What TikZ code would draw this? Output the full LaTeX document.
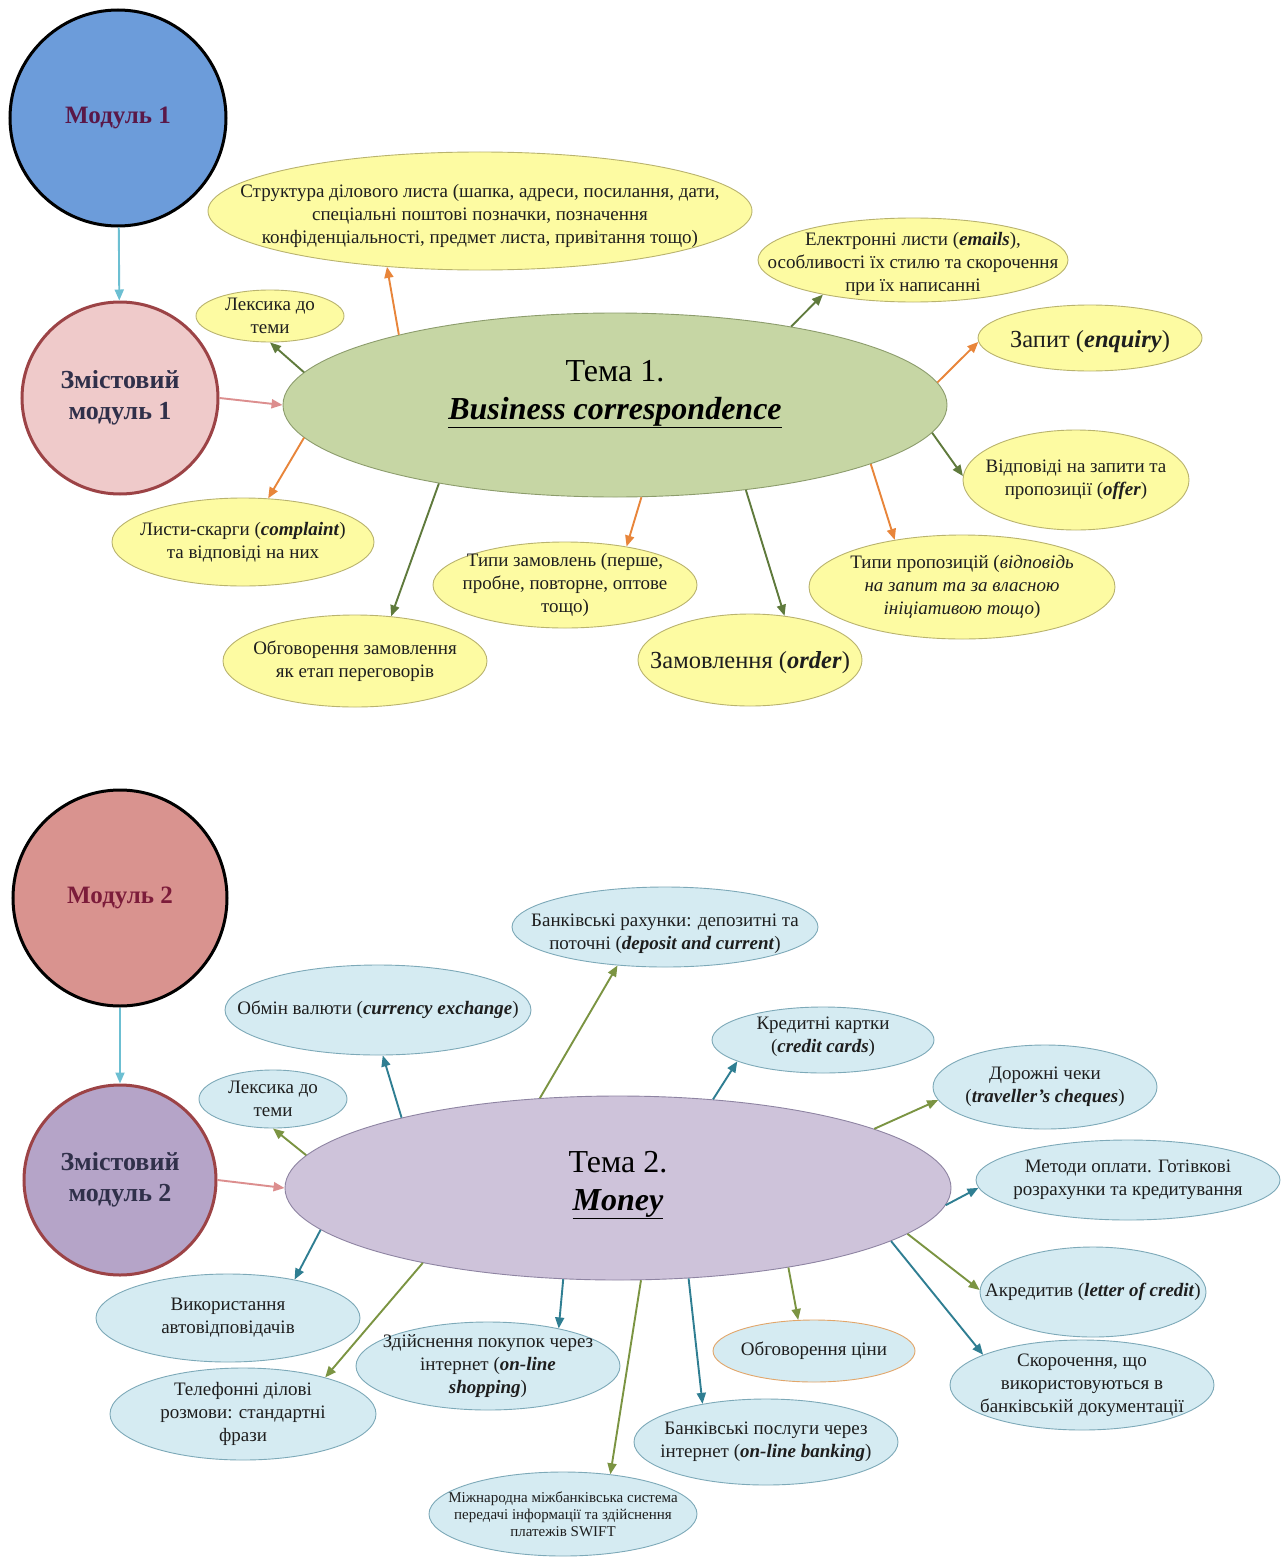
\documentclass[tikz,border=0pt]{standalone}
\usepackage{fontspec}
\setmainfont{Liberation Serif}
\usetikzlibrary{shapes.geometric,arrows.meta}
\definecolor{yelF}{HTML}{FDFBA2}
\definecolor{yelD}{HTML}{B9B36E}
\definecolor{bluF}{HTML}{D5EBF2}
\definecolor{bluD}{HTML}{7DA9B8}
\definecolor{txtC}{HTML}{1E1E1E}
\definecolor{mOneF}{HTML}{6C9CDA}
\definecolor{mTwoF}{HTML}{D9938F}
\definecolor{mOneT}{HTML}{5A1848}
\definecolor{mTwoT}{HTML}{7C1C3A}
\definecolor{zOneF}{HTML}{EFCACA}
\definecolor{zTwoF}{HTML}{B5A4C8}
\definecolor{zBord}{HTML}{9C4346}
\definecolor{zTxt}{HTML}{30304A}
\definecolor{tOneF}{HTML}{C6D6A4}
\definecolor{tOneD}{HTML}{8C9C6C}
\definecolor{tTwoF}{HTML}{CEC3DA}
\definecolor{tTwoD}{HTML}{8E84A2}
\definecolor{arOr}{HTML}{E8853A}
\definecolor{arGrT}{HTML}{5F7A3C}
\definecolor{arGrB}{HTML}{7B9442}
\definecolor{arTeal}{HTML}{2F7E92}
\definecolor{arLB}{HTML}{6CBFD2}
\definecolor{arPk}{HTML}{DC8E8E}
\definecolor{obcD}{HTML}{E2A66A}
\tikzset{
  base/.style={ellipse, inner sep=0pt},
  yel/.style={base, fill=yelF, draw=yelD, line width=0.9pt},
  blu/.style={base, fill=bluF, draw=bluD, line width=0.9pt},
  lbl/.style={align=center, text=txtC, font=\fontsize{19}{23}\selectfont},
  big/.style={align=center, text=txtC, font=\fontsize{24.5}{29}\selectfont},
  small/.style={align=center, text=txtC, font=\fontsize{15}{17}\selectfont},
  modc/.style={base, draw=black, line width=3pt},
  zmc/.style={base, draw=zBord, line width=3pt},
  zlbl/.style={align=center, text=zTxt, font=\fontsize{26}{31}\selectfont\bfseries},
  tema/.style={align=center, text=black, font=\fontsize{32}{38}\selectfont},
  arr/.style={line width=1.9pt, -{Triangle[length=11pt,width=9pt]}},
}
\newcommand\bi[1]{\textbf{\textit{#1}}}
\begin{document}
\begin{tikzpicture}[x=1pt,y=-1pt]
\useasboundingbox (0,0) rectangle (1280,1557);
\fill[white] (0,0) rectangle (1280,1557);

% ---------------- Module 1 ----------------
\node[modc, fill=mOneF, minimum width=216, minimum height=216,
  label={[align=center, text=mOneT, font=\fontsize{25}{30}\selectfont\bfseries]center:{Модуль 1}}] (m1) at (118,118) {};
\node[zmc, fill=zOneF, minimum width=196, minimum height=192,
  label={[zlbl]center:{Змістовий\\модуль 1}}] (z1) at (120,398) {};
\node[base, fill=tOneF, draw=tOneD, line width=0.9pt, minimum width=664, minimum height=184,
  label={[tema, yshift=11pt]center:{Тема 1.\\\underline{\bi{Business correspondence}}}}] (t1) at (615,405) {};

\node[yel, minimum width=544, minimum height=118,
  label={[lbl, yshift=-5pt]center:{Структура ділового листа (шапка, адреси, посилання, дати,\\спеціальні поштові позначки, позначення\\конфіденціальності, предмет листа, привітання тощо)}}] (s1) at (480,211) {};
\node[yel, minimum width=148, minimum height=52,
  label={[lbl]center:{Лексика до\\теми}}] (lx1) at (270,316) {};
\node[yel, minimum width=310, minimum height=84,
  label={[lbl, yshift=-4pt]center:{Електронні листи (\bi{emails}),\\особливості їх стилю та скорочення\\при їх написанні}}] (em) at (913,260) {};
\node[yel, minimum width=224, minimum height=66,
  label={[big, yshift=-4pt]center:{Запит (\bi{enquiry})}}] (zap) at (1090,338) {};
\node[yel, minimum width=226, minimum height=100,
  label={[lbl]center:{Відповіді на запити та\\пропозиції (\bi{offer})}}] (vid) at (1076,480) {};
\node[yel, minimum width=306, minimum height=104,
  label={[lbl]center:{Типи пропозицій (\textit{відповідь}\\\textit{на запит та за власною}\\\textit{ініціативою тощо})}}] (tp) at (962,587) {};
\node[yel, minimum width=224, minimum height=92,
  label={[big, yshift=-3pt]center:{Замовлення (\bi{order})}}] (zam) at (750,660) {};
\node[yel, minimum width=264, minimum height=86,
  label={[lbl]center:{Типи замовлень (перше,\\пробне, повторне, оптове\\тощо)}}] (tz) at (565,585) {};
\node[yel, minimum width=262, minimum height=88,
  label={[lbl]center:{Листи-скарги (\bi{complaint})\\та відповіді на них}}] (lsk) at (243,542) {};
\node[yel, minimum width=264, minimum height=92,
  label={[lbl]center:{Обговорення замовлення\\як етап переговорів}}] (obz) at (355,661) {};

\draw[arr, arLB] (m1) -- (z1);
\draw[arr, arPk] (z1.east) -- (t1.west);
\draw[arr, arOr] (t1.162) -- (s1.-149);
\draw[arr, arGrT] (t1.174.6) -- (lx1.-90);
\draw[arr, arGrT] (t1.24.6) -- (em.-159);
\draw[arr, arOr] (t1.4.4) -- (zap.182);
\draw[arr, arGrT] (t1.-5.6) -- (vid.178);
\draw[arr, arOr] (t1.-13.8) -- (tp.145);
\draw[arr, arGrT] (t1.-33) -- (zam.52);
\draw[arr, arOr] (t1.-74.8) -- (tz.32);
\draw[arr, arOr] (t1.186.4) -- (lsk.60);
\draw[arr, arGrT] (t1.204) -- (obz.51);

% ---------------- Module 2 ----------------
\node[modc, fill=mTwoF, minimum width=214, minimum height=216,
  label={[align=center, text=mTwoT, font=\fontsize{25}{30}\selectfont\bfseries]center:{Модуль 2}}] (m2) at (120,898) {};
\node[zmc, fill=zTwoF, minimum width=192, minimum height=190,
  label={[zlbl]center:{Змістовий\\модуль 2}}] (z2) at (120,1180) {};
\node[base, fill=tTwoF, draw=tTwoD, line width=0.9pt, minimum width=666, minimum height=184,
  label={[tema, yshift=3pt]center:{Тема 2.\\\underline{\bi{Money}}}}] (t2) at (618,1188) {};

\node[blu, minimum width=306, minimum height=80,
  label={[lbl, yshift=-7pt]center:{Банківські рахунки: депозитні та\\поточні (\bi{deposit and current})}}] (bank) at (665,927) {};
\node[blu, minimum width=306, minimum height=90,
  label={[lbl]center:{Обмін валюти (\bi{currency exchange})}}] (obm) at (378,1010) {};
\node[blu, minimum width=148, minimum height=58,
  label={[lbl]center:{Лексика до\\теми}}] (lx2) at (273,1099) {};
\node[blu, minimum width=222, minimum height=66,
  label={[lbl, yshift=3pt]center:{Кредитні картки\\(\bi{credit cards})}}] (kk) at (823,1040) {};
\node[blu, minimum width=224, minimum height=84,
  label={[lbl]center:{Дорожні чеки\\(\bi{traveller’s cheques})}}] (dch) at (1045,1087) {};
\node[blu, minimum width=304, minimum height=80,
  label={[lbl]center:{Методи оплати. Готівкові\\розрахунки та кредитування}}] (met) at (1128,1180) {};
\node[blu, minimum width=226, minimum height=90,
  label={[lbl]center:{Акредитив (\bi{letter of credit})}}] (akr) at (1093,1292) {};
\node[blu, minimum width=264, minimum height=90,
  label={[lbl]center:{Скорочення, що\\використовуються в\\банківській документації}}] (sk) at (1082,1385) {};
\node[base, fill=bluF, draw=obcD, line width=0.9pt, minimum width=202, minimum height=62,
  label={[lbl]center:{Обговорення ціни}}] (obc) at (814,1351) {};
\node[blu, minimum width=264, minimum height=86,
  label={[lbl]center:{Банківські послуги через\\інтернет (\bi{on-line banking})}}] (bpi) at (766,1442) {};
\node[blu, minimum width=268, minimum height=84,
  label={[small]center:{Міжнародна міжбанківська система\\передачі інформації та здійснення\\платежів SWIFT}}] (sw) at (563,1514) {};
\node[blu, minimum width=264, minimum height=88,
  label={[lbl]center:{Здійснення покупок через\\інтернет (\bi{on-line}\\\bi{shopping})}}] (zp) at (488,1366) {};
\node[blu, minimum width=266, minimum height=92,
  label={[lbl]center:{Телефонні ділові\\розмови: стандартні\\фрази}}] (tel) at (243,1414) {};
\node[blu, minimum width=264, minimum height=88,
  label={[lbl]center:{Використання\\автовідповідачів}}] (avt) at (228,1318) {};

\draw[arr, arLB] (m2) -- (z2);
\draw[arr, arPk] (z2.east) -- (t2.west);
\draw[arr, arGrB] (t2.131.7) -- (bank.219);
\draw[arr, arTeal] (t2.162.4) -- (obm.-84);
\draw[arr, arGrB] (t2.174.6) -- (lx2.-90);
\draw[arr, arTeal] (t2.43.2) -- (kk.194);
\draw[arr, arGrB] (t2.13.2) -- (dch.187);
\draw[arr, arTeal] (t2.-3.9) -- (met.183);
\draw[arr, arGrB] (t2.-9.9) -- (akr.179);
\draw[arr, arTeal] (t2.-11.9) -- (sk.163);
\draw[arr, arGrB] (t2.-25.5) -- (obc.117);
\draw[arr, arTeal] (t2.-52.9) -- (bpi.149);
\draw[arr, arGrB] (t2.-76.6) -- (sw.40);
\draw[arr, arTeal] (t2.239) -- (zp.28);
\draw[arr, arGrB] (t2.201.4) -- (tel.24);
\draw[arr, arTeal] (t2.188) -- (avt.30);
\end{tikzpicture}
\end{document}
